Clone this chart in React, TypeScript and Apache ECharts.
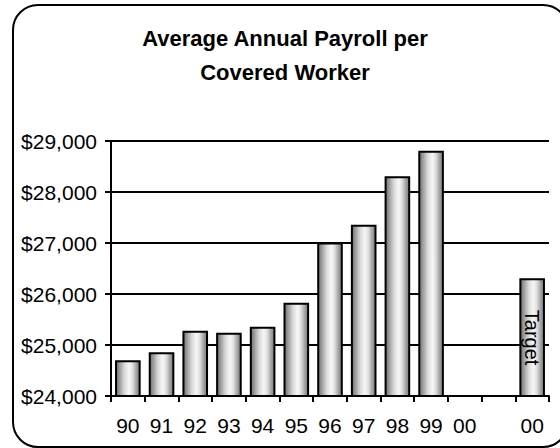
import React, { useEffect, useRef } from "react";
import * as echarts from "echarts";

const categories = ["90", "91", "92", "93", "94", "95", "96", "97", "98", "99", "00", "", "00"];
const payroll = [24700, 24860, 25280, 25240, 25360, 25830, 27010, 27360, 28310, 28810, null, null, 26310];
const barLabels = ["", "", "", "", "", "", "", "", "", "", "", "", "Target"];
const yMin = 24000;
const yMax = 29000;
const yStep = 1000;
const titleText = "Average Annual Payroll per\nCovered Worker";

export default function App() {
  const ref = useRef<HTMLDivElement>(null);
  useEffect(() => {
    if (!ref.current) return;
    const chart = echarts.init(ref.current, undefined, { renderer: "svg" });
    const grad = new echarts.graphic.LinearGradient(0, 0, 1, 0, [
      { offset: 0, color: "#6e6e6e" },
      { offset: 0.15, color: "#9c9c9c" },
      { offset: 0.35, color: "#d8d8d8" },
      { offset: 0.55, color: "#f7f7f7" },
      { offset: 0.7, color: "#dedede" },
      { offset: 0.85, color: "#a6a6a6" },
      { offset: 1, color: "#7a7a7a" },
    ]);
    chart.setOption({
      animation: false,
      backgroundColor: "#ffffff",
      title: {
        text: titleText,
        left: 280,
        top: 16,
        textAlign: "center",
        textStyle: {
          fontFamily: "Arial, Liberation Sans, sans-serif",
          fontWeight: "bold",
          fontSize: 22,
          lineHeight: 34,
          color: "#000",
        },
      },
      graphic: [
        {
          type: "rect",
          shape: { x: 13, y: 5, width: 555, height: 442, r: 25 },
          style: { fill: "none", stroke: "#000", lineWidth: 2 },
          silent: true,
        },
      ],
      grid: { left: 111, right: 11, top: 141, bottom: 52, containLabel: false },
      xAxis: {
        type: "category",
        data: categories,
        axisLine: { lineStyle: { color: "#000", width: 2 } },
        axisTick: { show: true, alignWithLabel: false, length: 6, lineStyle: { color: "#000", width: 2 } },
        axisLabel: {
          color: "#000",
          fontFamily: "Arial, Liberation Sans, sans-serif",
          fontSize: 21,
          margin: 19,
          interval: 0,
        },
      },
      yAxis: {
        type: "value",
        min: yMin,
        max: yMax,
        interval: yStep,
        axisLine: { show: true, lineStyle: { color: "#000", width: 2 } },
        axisTick: { show: true, length: 6, lineStyle: { color: "#000", width: 2 } },
        splitLine: { show: true, lineStyle: { color: "#000", width: 2 } },
        axisLabel: {
          color: "#000",
          fontFamily: "Arial, Liberation Sans, sans-serif",
          fontSize: 21,
          margin: 14,
          formatter: (v: number) => "$" + v.toLocaleString("en-US"),
        },
      },
      series: [
        {
          type: "bar",
          data: payroll.map((v, i) => ({
            value: v,
            label: barLabels[i]
              ? {
                  show: true,
                  formatter: barLabels[i],
                  position: "inside",
                  rotate: -90,
                  color: "#000",
                  fontFamily: "Arial, Liberation Sans, sans-serif",
                  fontSize: 20,
                }
              : { show: false },
          })),
          barCategoryGap: "24%",
          itemStyle: { color: grad, borderColor: "#000", borderWidth: 2 },
        },
      ],
    });
    return () => chart.dispose();
  }, []);
  return <div ref={ref} style={{ width: 560, height: 448, position: "absolute", left: 0, top: 0 }} />;
}
